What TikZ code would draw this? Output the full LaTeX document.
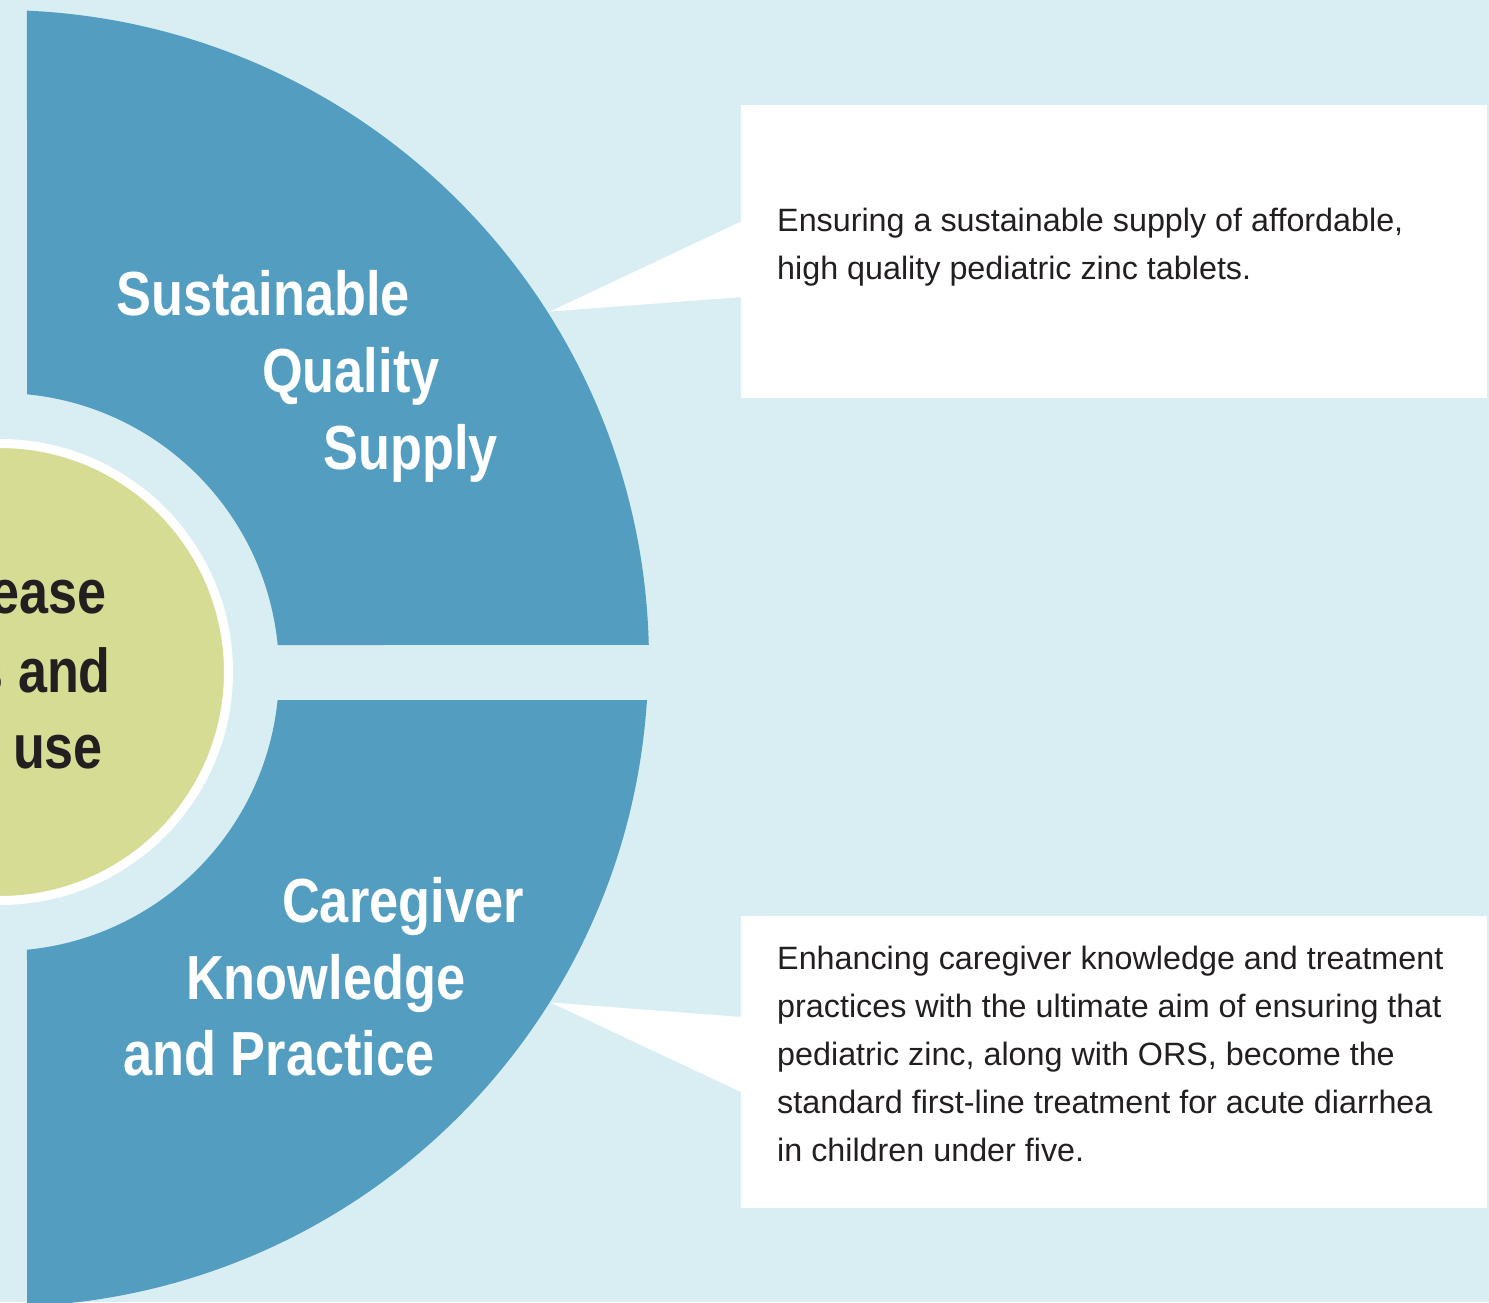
\documentclass[tikz,border=0pt]{standalone}
\usepackage{fontspec}
\setmainfont{Liberation Sans}
\newfontfamily\headfam{Liberation Sans}[FakeStretch=0.84]
\usetikzlibrary{calc}
\definecolor{bgblue}{HTML}{D8EEF2}
\definecolor{segblue}{HTML}{529DC0}
\definecolor{hubgreen}{HTML}{D7DC94}
\definecolor{inkdark}{HTML}{231F20}
\tikzset{
  seg/.style={fill=segblue, draw=none},
  callbox/.style={rectangle, fill=white, draw=none, inner sep=0pt, anchor=north west},
  pointer/.style={fill=white, draw=none},
  hubnode/.style={circle, fill=hubgreen, draw=white, line width=9pt, inner sep=0pt, minimum size=457pt},
  headtxt/.style={text=white, font=\headfam\bfseries\fontsize{62.3}{62}\selectfont, anchor=base west, inner sep=0pt},
  hubtxt/.style={text=inkdark, font=\headfam\bfseries\fontsize{62}{62}\selectfont, anchor=base east, inner sep=0pt},
  bodytxt/.style={text=inkdark, font=\fontsize{32.3}{48}\selectfont, anchor=base west, inner sep=0pt},
}
\begin{document}
\begin{tikzpicture}[x=1pt, y=-1pt]
\clip (0,0) rectangle (1489,1302);
\fill[bgblue] (0,0) rectangle (1489,1302);

% upper segment
\fill[seg] (26.96,10.64) arc[start angle=-87.45, end angle=-1.41, radius=651]
  -- (277.7,645) arc[start angle=-5.55, end angle=-84.43, radius=279] -- cycle;
% lower segment
\fill[seg] (647,700) -- (277.6,700) arc[start angle=5.75, end angle=84.45, radius=279]
  -- (27.15,1306.2) arc[start angle=87.6, end angle=3.67, radius=648.3] -- cycle;

% hub
\node[hubnode] (hub) at (0,672) {};
\node[hubtxt] (hubA) at (107,613) {Increase};
\node[hubtxt] (hubB) at (111,692) {access and};
\node[hubtxt] (hubC) at (103,768) {use};

% segment titles
\node[headtxt] (supA) at (116,315) {Sustainable};
\node[headtxt] (supB) at (262,392) {Quality};
\node[headtxt] (supC) at (323,469) {Supply};
\node[headtxt] (carA) at (282,922) {Caregiver};
\node[headtxt] (carB) at (186,999) {Knowledge};
\node[headtxt] (carC) at (123,1075) {and Practice};

% callout boxes
\node[callbox, minimum width=746pt, minimum height=293pt] (boxA) at (741,105) {};
\node[callbox, minimum width=746pt, minimum height=292pt] (boxB) at (741,916) {};
\coordinate (tipA) at (550,311.5);
\coordinate (tipB) at (550.5,1002.5);
\fill[pointer] ($(boxA.north west)+(1,116)$) -- (tipA) -- ($(boxA.north west)+(1,192)$) -- cycle;
\fill[pointer] ($(boxB.north west)+(1,101)$) -- (tipB) -- ($(boxB.north west)+(1,176.5)$) -- cycle;

% callout texts
\node[bodytxt] (tA1) at (777,231) {Ensuring a sustainable supply of affordable,};
\node[bodytxt] (tA2) at (777,279) {high quality pediatric zinc tablets.};
\node[bodytxt] (tB1) at (777,969) {Enhancing caregiver knowledge and treatment};
\node[bodytxt] (tB2) at (777,1017) {practices with the ultimate aim of ensuring that};
\node[bodytxt] (tB3) at (777,1065) {pediatric zinc, along with ORS, become the};
\node[bodytxt] (tB4) at (777,1113) {standard first-line treatment for acute diarrhea};
\node[bodytxt] (tB5) at (777,1161) {in children under five.};
\end{tikzpicture}
\end{document}
